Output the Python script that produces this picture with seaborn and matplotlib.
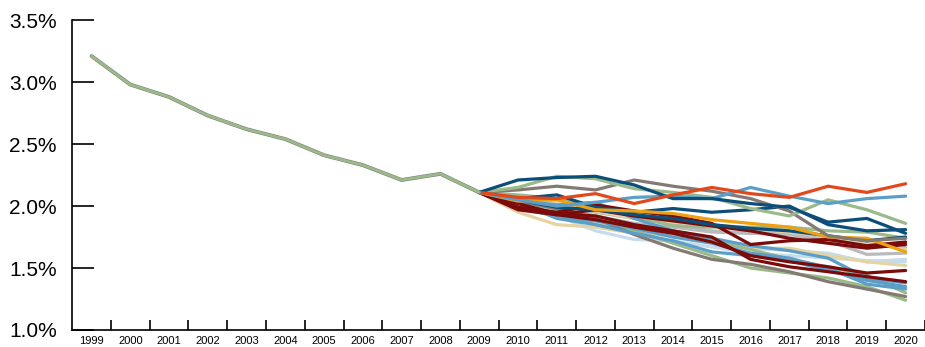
import matplotlib as mpl
import matplotlib.pyplot as plt
import matplotlib.ticker as mtick
import numpy as np
import pandas as pd
import seaborn as sns

mpl.use('Agg')

# observed history
hist_years = list(range(1999, 2010))
hist_values = [3.21, 2.98, 2.88, 2.73, 2.62, 2.54, 2.41, 2.33, 2.21, 2.26, 2.11]

# projection paths, 2009 to 2020
proj_years = list(range(2009, 2021))
paths = {
    's01': [2.11, 2.07, 2.06, 2.10, 2.02, 2.09, 2.15, 2.10, 2.07, 2.16, 2.11, 2.18],
    's02': [2.11, 2.05, 2.00, 2.03, 2.07, 2.08, 2.06, 2.15, 2.08, 2.02, 2.06, 2.08],
    's03': [2.11, 2.21, 2.23, 2.24, 2.17, 2.06, 2.06, 2.02, 1.99, 1.87, 1.90, 1.78],
    's04': [2.11, 2.06, 2.09, 1.99, 1.95, 1.98, 1.95, 1.97, 2.00, 1.85, 1.80, 1.81],
    's05': [2.11, 2.13, 2.16, 2.13, 2.21, 2.16, 2.12, 2.06, 1.96, 1.76, 1.72, 1.74],
    's06': [2.11, 2.15, 2.24, 2.22, 2.14, 2.11, 2.07, 1.98, 1.92, 2.05, 1.97, 1.86],
    's07': [2.11, 2.04, 2.05, 1.97, 1.96, 1.94, 1.89, 1.86, 1.83, 1.75, 1.74, 1.63],
    's08': [2.11, 1.99, 1.95, 2.01, 1.96, 1.92, 1.86, 1.69, 1.72, 1.73, 1.68, 1.71],
    's09': [2.11, 2.02, 1.94, 1.92, 1.85, 1.80, 1.75, 1.57, 1.51, 1.47, 1.43, 1.39],
    's10': [2.11, 1.97, 1.93, 1.89, 1.83, 1.78, 1.71, 1.60, 1.55, 1.51, 1.46, 1.48],
    's11': [2.11, 1.95, 1.85, 1.83, 1.78, 1.76, 1.72, 1.66, 1.66, 1.60, 1.55, 1.52],
    's12': [2.11, 2.08, 2.02, 1.96, 1.90, 1.87, 1.85, 1.82, 1.79, 1.76, 1.70, 1.65],
    's13': [2.11, 2.00, 1.92, 1.80, 1.73, 1.72, 1.67, 1.62, 1.60, 1.58, 1.56, 1.55],
    's14': [2.11, 2.06, 2.01, 1.95, 1.90, 1.85, 1.80, 1.78, 1.77, 1.72, 1.61, 1.62],
    's15': [2.11, 2.04, 1.98, 1.90, 1.77, 1.66, 1.57, 1.53, 1.47, 1.39, 1.33, 1.27],
    's16': [2.11, 2.00, 1.93, 1.85, 1.80, 1.70, 1.60, 1.50, 1.46, 1.42, 1.35, 1.24],
    's17': [2.11, 2.03, 1.90, 1.85, 1.78, 1.72, 1.63, 1.60, 1.56, 1.48, 1.40, 1.35],
    's18': [2.11, 1.98, 1.92, 1.88, 1.82, 1.75, 1.70, 1.62, 1.58, 1.50, 1.37, 1.33],
    's19': [2.11, 2.05, 1.97, 1.92, 1.84, 1.80, 1.72, 1.65, 1.57, 1.51, 1.44, 1.30],
    's20': [2.11, 2.02, 1.95, 1.90, 1.84, 1.78, 1.72, 1.66, 1.64, 1.62, 1.55, 1.57],
    's21': [2.11, 2.09, 2.06, 1.98, 1.92, 1.84, 1.83, 1.83, 1.83, 1.80, 1.79, 1.74],
    's22': [2.11, 2.03, 1.98, 1.92, 1.86, 1.83, 1.79, 1.78, 1.79, 1.75, 1.70, 1.67],
    's23': [2.11, 2.04, 2.01, 2.03, 1.90, 1.80, 1.74, 1.68, 1.64, 1.58, 1.42, 1.38],
    's24': [2.11, 2.05, 1.99, 1.97, 1.93, 1.90, 1.85, 1.82, 1.80, 1.76, 1.72, 1.75],
    's25': [2.11, 1.99, 1.93, 1.97, 1.92, 1.88, 1.84, 1.80, 1.74, 1.70, 1.66, 1.69],
}

# colours
DB, MB, LB = '#0c4e7a', '#5b9fc8', '#c5dcec'
OR, OG, DR = '#e2481c', '#eda012', '#7b0a0a'
GB, SG, TN, LG = '#847a74', '#9bb98a', '#e6d3a2', '#b9babb'
path_colors = {
    's01': OR, 's02': MB, 's03': DB, 's04': DB, 's05': GB, 's06': SG, 's07': OG,
    's08': DR, 's09': DR, 's10': DR, 's11': TN, 's12': TN, 's13': LB, 's14': LG,
    's15': GB, 's16': SG, 's17': MB, 's18': MB, 's19': SG, 's20': LB, 's21': SG,
    's22': LG, 's23': MB, 's24': DB, 's25': DR,
}
# draw order (first = bottom)
draw_order = ['s13', 's20', 's14', 's22', 's11', 's12', 's21', 's19', 's16', 's15',
              's17', 's18', 's23', 's10', 's09', 's25', 's08', 's24', 's04', 's07',
              's05', 's06', 's02', 's03', 's01']

rows = []
for name in draw_order:
    for yr, v in zip(proj_years, paths[name]):
        rows.append({'series': name, 'year': yr, 'value': v})
df = pd.DataFrame(rows)

sns.set_theme(style='white')
plt.rcParams['font.family'] = ['Liberation Sans', 'DejaVu Sans']

fig = plt.figure(figsize=(9.25, 3.47), dpi=100)
ax = fig.add_axes([0.078, 0.049, 0.922, 0.893])

sns.lineplot(data=df, x='year', y='value', hue='series', hue_order=draw_order,
             palette=path_colors, linewidth=2.3, legend=False, ax=ax, sort=False)
sns.lineplot(x=hist_years, y=hist_values, color='#7f8577', linewidth=2.8, ax=ax)
sns.lineplot(x=hist_years, y=hist_values, color=SG, linewidth=2.0, ax=ax)

ax.set_xlim(1998.5, 2020.5)
ax.set_ylim(1.0, 3.5)
ax.set_xlabel('')
ax.set_ylabel('')

all_years = list(range(1999, 2021))
ax.set_xticks([y + 0.5 for y in all_years])
ax.set_xticklabels([])
ax.set_xticks(all_years, minor=True)
ax.set_xticklabels([str(y) for y in all_years], minor=True)
ax.tick_params(axis='x', which='major', bottom=True, direction='in', length=7,
               width=1.2, color='black')
ax.tick_params(axis='x', which='minor', bottom=True, length=0, labelsize=8, pad=4,
               labelcolor='black')

ax.set_yticks(np.arange(1.0, 3.51, 0.5))
ax.yaxis.set_major_formatter(mtick.PercentFormatter(decimals=1))
ax.tick_params(axis='y', left=True, direction='in', length=16, width=1.2, color='black',
               labelsize=15, pad=11, labelcolor='black')

for side in ['top', 'right']:
    ax.spines[side].set_visible(False)
for side in ['left', 'bottom']:
    ax.spines[side].set_color('black')
    ax.spines[side].set_linewidth(1.2)

fig.savefig('out.png', dpi=100)
plt.close(fig)
